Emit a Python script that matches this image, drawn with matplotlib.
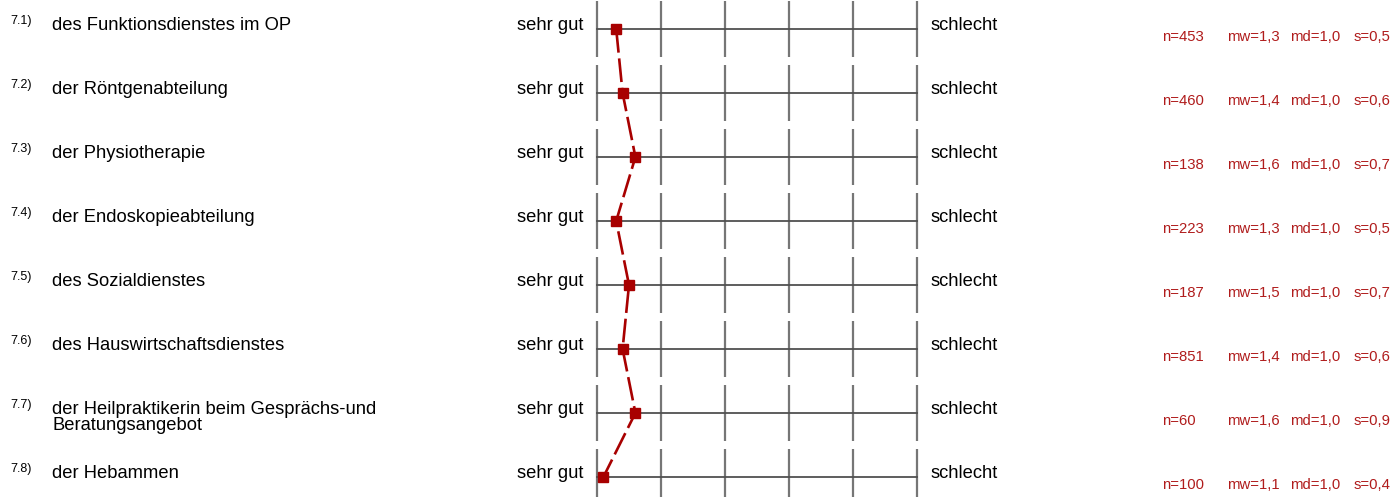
import numpy as np
import matplotlib
matplotlib.use('Agg')
import matplotlib.pyplot as plt

plt.rcParams['font.family'] = ['Liberation Sans', 'DejaVu Sans']

nums = ['7.1)', '7.2)', '7.3)', '7.4)', '7.5)', '7.6)', '7.7)', '7.8)']
labels = ['des Funktionsdienstes im OP',
          'der Röntgenabteilung',
          'der Physiotherapie',
          'der Endoskopieabteilung',
          'des Sozialdienstes',
          'des Hauswirtschaftsdienstes',
          'der Heilpraktikerin beim Gesprächs-und\nBeratungsangebot',
          'der Hebammen']
n = [453, 460, 138, 223, 187, 851, 60, 100]
mw = [1.3, 1.4, 1.6, 1.3, 1.5, 1.4, 1.6, 1.1]
md = [1.0, 1.0, 1.0, 1.0, 1.0, 1.0, 1.0, 1.0]
s = [0.5, 0.6, 0.7, 0.5, 0.7, 0.6, 0.9, 0.4]
left_label = 'sehr gut'
right_label = 'schlecht'
scale = [1, 2, 3, 4, 5, 6]

W, H = 1396, 497
fig = plt.figure(figsize=(W / 100, H / 100), dpi=100)
ax = fig.add_axes([0, 0, 1, 1])
ax.axis('off')

# 64 px per scale step, first tick at x=597 px, first row at y=29 px
px = 64.0
ax.set_xlim(1 - 597 / px, 1 + (W - 597) / px)
ax.set_ylim((H - 29) / px, -29 / px)


def xpos(p):
    # pixel column -> data x
    return 1 + (p - 597) / px


red = '#b01c1c'
mark = '#a80000'
rows = np.arange(len(labels))
fs_main = 13.2
fs_stat = 10.7

for i in rows:
    for v in scale:
        ax.plot([v, v], [i - 0.435, i + 0.435], color='#767676', lw=1.6,
                solid_capstyle='butt', zorder=1)
    ax.plot([scale[0], scale[-1]], [i, i], color='#505050', lw=1.3, zorder=1)

    ax.text(xpos(10), i - 5 / px, nums[i], fontsize=9, va='baseline', ha='left')
    for k, part in enumerate(labels[i].split('\n')):
        ax.text(xpos(52), i + (1 + k * 16) / px, part, fontsize=fs_main,
                va='baseline', ha='left')
    ax.text(xpos(583), i + 1 / px, left_label, fontsize=fs_main, va='baseline', ha='right')
    ax.text(xpos(931), i + 1 / px, right_label, fontsize=fs_main, va='baseline', ha='left')

    y = i + 12 / px
    ax.text(xpos(1162), y, 'n=%d' % n[i], fontsize=fs_stat, color=red, va='baseline')
    ax.text(xpos(1227), y, ('mw=%.1f' % mw[i]).replace('.', ','),
            fontsize=fs_stat, color=red, va='baseline')
    ax.text(xpos(1290), y, ('md=%.1f' % md[i]).replace('.', ','),
            fontsize=fs_stat, color=red, va='baseline')
    ax.text(xpos(1354), y, ('s=%.1f' % s[i]).replace('.', ','),
            fontsize=fs_stat, color=red, va='baseline')

line, = ax.plot(mw, rows, color=mark, lw=1.9, marker='s', markersize=6.8,
                markerfacecolor=mark, markeredgecolor=mark, zorder=3)
line.set_dashes([9, 2.2])

fig.savefig('out.png', dpi=100)
